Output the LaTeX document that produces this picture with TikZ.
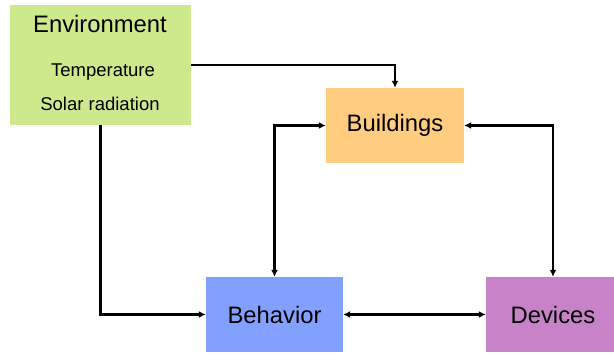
\documentclass[tikz,border=0pt]{standalone}
\usepackage{fontspec}
\setmainfont{Liberation Sans}
\usetikzlibrary{arrows.meta}
\definecolor{envgreen}{RGB}{206,232,140}
\definecolor{bldorange}{RGB}{255,204,128}
\definecolor{behblue}{RGB}{130,160,255}
\definecolor{devpurple}{RGB}{200,130,200}

\begin{document}
\begin{tikzpicture}[x=1pt,y=-1pt]
\tikzstyle{every node}+=[inner sep=0pt]
\tikzstyle{box}=[draw=none,minimum height=75pt,font=\fontsize{23.8}{28}\selectfont]
\tikzstyle{link}=[black,line width=2.4pt,{Latex[length=7pt,width=7pt]}-{Latex[length=7pt,width=7pt]}]
\tikzstyle{feed}=[black,line width=2.4pt,-{Latex[length=7pt,width=7pt]}]
\useasboundingbox (0,0) rectangle (614,354);
\node [fill=envgreen,minimum width=181pt,minimum height=120pt] (env) at (100.5,65) {};
\node [font=\fontsize{23.8}{28}\selectfont] (envtitle) at (100,24) {Environment};
\node [font=\fontsize{18.5}{22}\selectfont] (temp) at (103,72) {Temperature};
\node [font=\fontsize{18.5}{22}\selectfont] (solar) at (100,104) {Solar radiation};
\node [box,fill=bldorange,minimum width=138pt] (bld) at (395,125.5) {Buildings};
\node [box,fill=behblue,minimum width=137pt] (beh) at (274.5,314.5) {Behavior};
\node [box,fill=devpurple,minimum width=134pt] (dev) at (553,314.5) {Devices};
\draw [feed] (env.east) -| (bld.north);
\draw [feed] (env.south) |- (beh.west);
\draw [link] (bld.west) -| (beh.north);
\draw [link] (bld.east) -| (dev.north);
\draw [link] (beh.east) -- (dev.west);
\end{tikzpicture}
\end{document}
